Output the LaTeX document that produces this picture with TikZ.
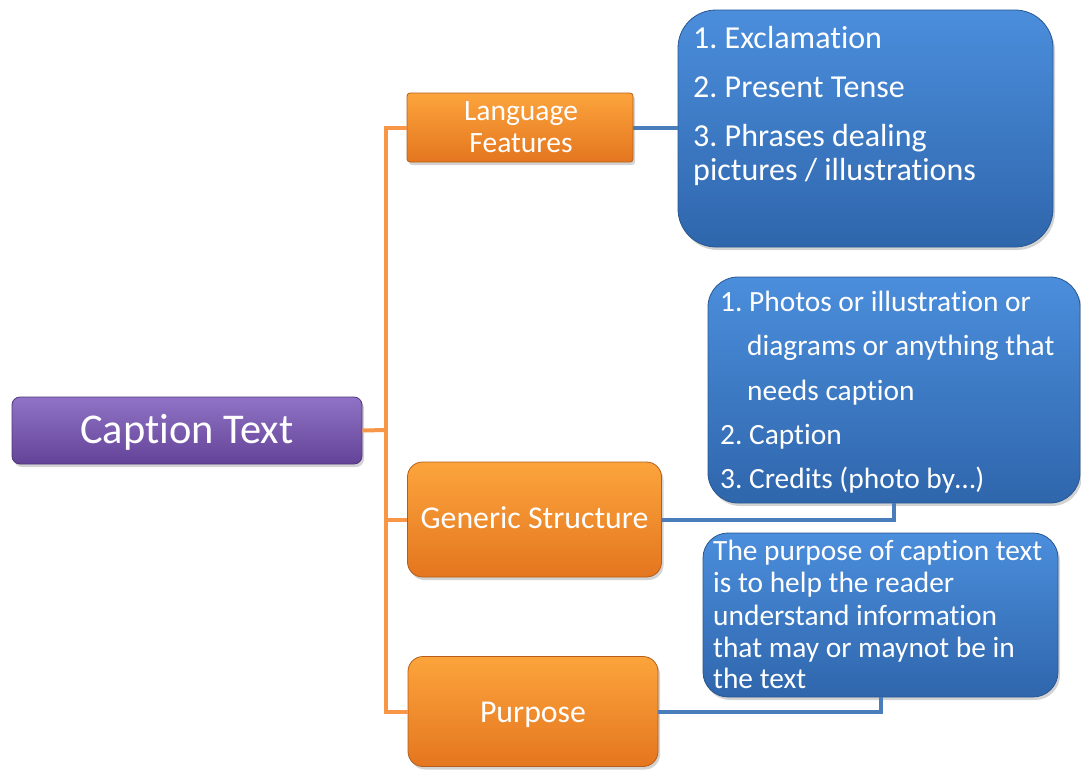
\documentclass[tikz,border=0pt]{standalone}
\usepackage{fontspec}
\setmainfont{Carlito}[Ligatures=NoCommon]
\frenchspacing
\usetikzlibrary{shadows}
\definecolor{orline}{HTML}{F79646}
\definecolor{blline}{HTML}{4A7EBB}
\definecolor{purtop}{HTML}{9073C6}
\definecolor{purbot}{HTML}{634397}
\definecolor{ortop}{HTML}{FCA43C}
\definecolor{orbot}{HTML}{E4761F}
\definecolor{bltop}{HTML}{4B8EDC}
\definecolor{blbot}{HTML}{2F66AC}
\tikzset{
  boxbase/.style={inner sep=0pt, draw, line width=0.8pt, drop shadow={shadow xshift=2pt, shadow yshift=-3pt, opacity=0.35}},
  purplebox/.style={boxbase, draw=purbot!80!black, top color=purtop, bottom color=purbot},
  orangebox/.style={boxbase, draw=orbot!80!black, top color=ortop, bottom color=orbot},
  bluebox/.style={boxbase, draw=blbot!85!black, top color=bltop, bottom color=blbot},
  wtxt/.style={text=white, inner sep=0pt},
  orconn/.style={draw=orline, line width=4pt},
  blconn/.style={draw=blline, line width=4pt},
}
\begin{document}
\begin{tikzpicture}[x=1pt,y=-1pt]
\useasboundingbox (0,0) rectangle (1081,769);
\coordinate (j) at (386,430);
% boxes
\node[purplebox, rounded corners=8pt, minimum width=350pt, minimum height=67pt] (cap) at (187,430.5) {};
\node[orangebox, rounded corners=3pt, minimum width=226pt, minimum height=69pt] (lf) at (520,127.5) {};
\node[orangebox, rounded corners=15pt, minimum width=254pt, minimum height=115pt] (gs) at (534.5,519.5) {};
\node[orangebox, rounded corners=15pt, minimum width=250pt, minimum height=110pt] (pu) at (533,711.5) {};
\node[bluebox, rounded corners=38pt, minimum width=375pt, minimum height=237pt] (b1) at (865.5,128.5) {};
\node[bluebox, rounded corners=30pt, minimum width=372pt, minimum height=226pt] (b2) at (894,390) {};
\node[bluebox, rounded corners=25pt, minimum width=355pt, minimum height=164pt] (b3) at (880.5,615) {};
% connectors
\draw[orconn] (cap.east) -- (j);
\draw[orconn, line join=miter] (lf.west) -| (j) |- (pu.west);
\draw[orconn] (j |- gs.west) -- (gs.west);
\draw[blconn] (lf.east) -- (lf.east -| b1.west);
\draw[blconn, line join=miter] (gs.east) -| (b2.south);
\draw[blconn, line join=miter] (pu.east) -| (b3.south);
% texts
\node[wtxt, anchor=base, font=\fontsize{42.4}{50}\selectfont] (tcap) at (187,443) {Caption Text};
\node[wtxt, anchor=base, font=\fontsize{29.5}{34}\selectfont] (tlf1) at (521,120) {Language};
\node[wtxt, anchor=base, font=\fontsize{29.5}{34}\selectfont] (tlf2) at (521,152) {Features};
\node[wtxt, anchor=base, font=\fontsize{31.8}{38}\selectfont] (tgs) at (534.5,528) {Generic Structure};
\node[wtxt, anchor=base, font=\fontsize{31.8}{38}\selectfont] (tpu) at (533,722) {Purpose};
\begin{scope}[every node/.style={wtxt, anchor=base west, font=\fontsize{32}{38}\selectfont}]
\node (a1) at (693,48) {1. Exclamation};
\node (a2) at (693,97) {2. Present Tense};
\node (a3) at (693,146) {3. Phrases dealing};
\node (a4) at (693,180) {pictures / illustrations};
\end{scope}
\begin{scope}[every node/.style={wtxt, anchor=base west, font=\fontsize{29.4}{35}\selectfont}]
\node (c1) at (720,311) {1. Photos or illustration or};
\node (c2) at (747,355) {diagrams or anything that};
\node (c3) at (747,400) {needs caption};
\node (c4) at (720,444) {2. Caption};
\node (c5) at (720,488) {3. Credits (photo by\dots)};
\node (d1) at (713,560) {The purpose of caption text};
\node (d2) at (713,592) {is to help the reader};
\node (d3) at (713,625) {understand information};
\node (d4) at (713,657) {that may or maynot be in};
\node (d5) at (713,688) {the text};
\end{scope}
\end{tikzpicture}
\end{document}
